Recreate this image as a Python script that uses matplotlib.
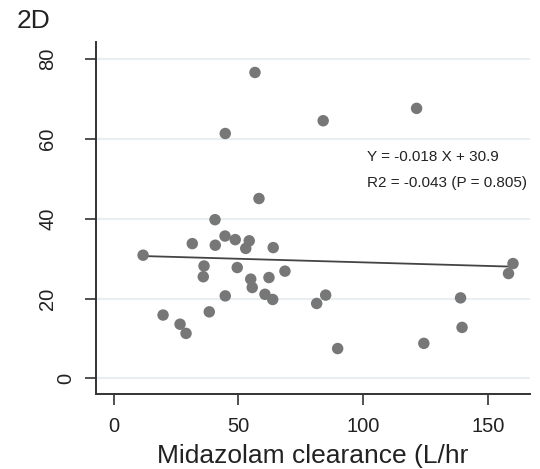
import numpy as np
import matplotlib.pyplot as plt

plt.rcParams['font.family'] = ['Liberation Sans', 'DejaVu Sans']

# Midazolam clearance (L/hr) vs outcome, panel 2D
clearance = [11.8, 19.8, 26.6, 29.0, 31.5, 36.2, 35.9, 38.3, 40.7, 40.6,
             44.6, 44.7, 48.7, 49.5, 52.9, 54.3, 54.9, 55.5, 44.7, 56.6,
             58.2, 60.6, 63.7, 62.2, 63.9, 68.6, 81.3, 84.9, 89.7, 124.2,
             138.9, 139.5, 159.9, 158.1, 83.9, 121.3]
value = [30.9, 15.9, 13.6, 11.3, 33.8, 28.2, 25.5, 16.7, 33.4, 39.8,
         35.7, 20.7, 34.8, 27.8, 32.6, 34.5, 24.9, 22.8, 61.4, 76.7,
         45.1, 21.1, 19.8, 25.3, 32.8, 26.9, 18.8, 20.9, 7.5, 8.8,
         20.2, 12.8, 28.8, 26.3, 64.6, 67.7]

slope = -0.018
intercept = 30.9
eq_text = "Y = -0.018 X + 30.9"
r2_text = "R2 = -0.043 (P = 0.805)"

xticks = [0, 50, 100, 150]
yticks = [0, 20, 40, 60, 80]
ytick_labels = ['', '20', '40', '60', '80']  # "0" drawn separately below

fig = plt.figure(figsize=(5.4, 4.69), dpi=100)
ax = fig.add_axes([0.178, 0.159, 0.803, 0.752])

for yt in yticks:
    ax.axhline(yt, color='#e8eef1', lw=1.6, zorder=0)

ax.scatter(clearance, value, s=68, color='#777777', edgecolors='none', zorder=3)

# fitted line
xs = np.array([min(clearance), max(clearance)])
ax.plot(xs, slope * xs + intercept, color='#444444', lw=1.3, zorder=2)

ax.text(101.4, 55.5, eq_text, fontsize=11, color='#222222', va='center')
ax.text(101.4, 49.0, r2_text, fontsize=11, color='#222222', va='center')

ax.set_xlim(-7, 166.6)
ax.set_ylim(-4, 84.4)
ax.set_xticks(xticks)
ax.set_yticks(yticks)
ax.set_yticklabels(ytick_labels, rotation=90, va='center')
ax.tick_params(axis='both', direction='out', length=8, width=1.2,
               color='#333333', labelsize=14.5, labelcolor='#222222')
ax.tick_params(axis='x', pad=8)
ax.tick_params(axis='y', pad=20)
# the "0" label sits closer to the axis in the original
ax.text(-0.048, yticks[0], '0', transform=ax.get_yaxis_transform(),
        rotation=90, ha='right', va='center', fontsize=14.5, color='#222222',
        clip_on=False)

for side in ['top', 'right']:
    ax.spines[side].set_visible(False)
for side in ['left', 'bottom']:
    ax.spines[side].set_linewidth(1.4)
    ax.spines[side].set_color('#333333')

ax.set_xlabel('Midazolam clearance (L/hr', fontsize=19, color='#222222', labelpad=6)
fig.text(0.03, 0.955, '2D', fontsize=19, color='#222222', va='center')

fig.savefig('out.png', dpi=100)
